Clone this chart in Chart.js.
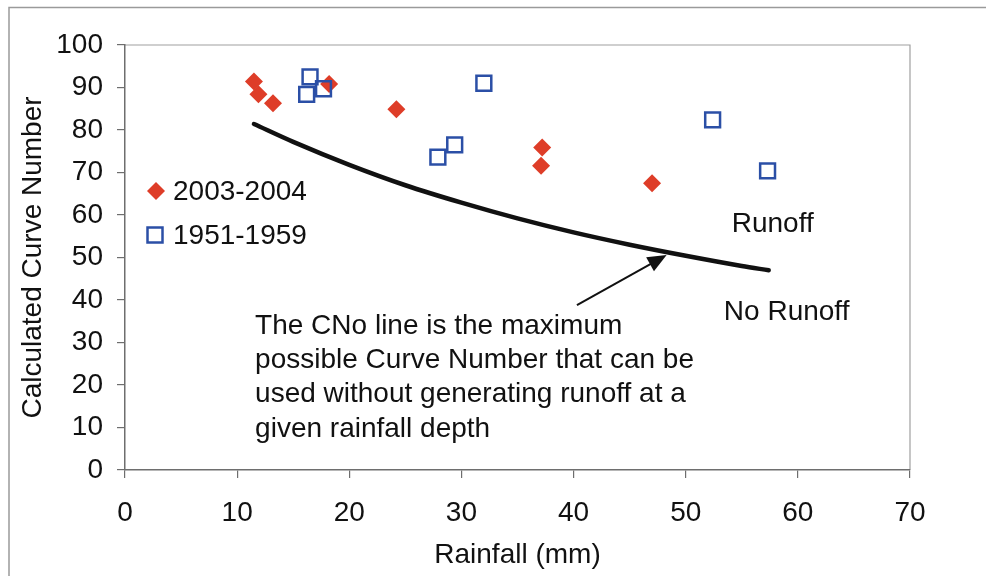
<!DOCTYPE html>
<html>
<head>
<meta charset="utf-8">
<script src="https://cdn.jsdelivr.net/npm/chart.js@4"></script>
<style>
  html, body { margin: 0; padding: 0; background: #fff; }
  #wrap { width: 986px; height: 576px; }
</style>
</head>
<body>
<div id="wrap"><canvas id="chart" width="986" height="576"></canvas></div>
<script>
"use strict";

let RAIN_2003 = [11.5, 11.9, 13.2, 18.2, 24.2, 37.2, 37.1, 47.0];
let CN_2003 = [91.4, 88.4, 86.3, 90.8, 84.9, 75.9, 71.6, 67.5];

let RAIN_1951 = [16.5, 16.2, 17.7, 32.0, 27.9, 29.4, 52.4, 57.3];
let CN_1951 = [92.5, 88.4, 89.7, 91.0, 73.6, 76.5, 82.4, 70.4];

let RAIN_CNO = [11.5, 15, 20, 25, 30, 35, 40, 45, 50, 55, 57.4];
let CN_CNO = [81.4, 77.2, 71.8, 67.0, 62.9, 59.2, 55.9, 53.0, 50.4, 48.0, 47.0];

let X_TICKS = [0, 10, 20, 30, 40, 50, 60, 70];
let Y_TICKS = [0, 10, 20, 30, 40, 50, 60, 70, 80, 90, 100];

let LEGEND = ["2003-2004", "1951-1959"];
let NOTE = [
    "The CNo line is the maximum",
    "possible Curve Number that can be",
    "used without generating runoff at a",
    "given rainfall depth"
];

let FONT = "'Liberation Sans', Arial, sans-serif";
let RED = "#de3d28";
let BLUE = "#2b4fa6";
let AXIS = "#6e6e6e";

function points(xs, ys) {
    return xs.map(function(x, i) { return { x: x, y: ys[i] }; });
}

let extras = {
    id: "extras",
    beforeDraw: function(chart) {
        let ctx = chart.ctx;
        ctx.save();
        ctx.fillStyle = "#fff";
        ctx.fillRect(0, 0, chart.width, chart.height);
        // chart frame
        ctx.strokeStyle = "#9a9a9a";
        ctx.lineWidth = 1.5;
        ctx.beginPath();
        ctx.moveTo(9, chart.height);
        ctx.lineTo(9, 7.5);
        ctx.lineTo(chart.width, 7.5);
        ctx.stroke();
        // plot area top / right edge
        let a = chart.chartArea;
        ctx.strokeStyle = "#a0a0a0";
        ctx.lineWidth = 1.2;
        ctx.beginPath();
        ctx.moveTo(a.left, a.top);
        ctx.lineTo(a.right, a.top);
        ctx.lineTo(a.right, a.bottom);
        ctx.stroke();
        ctx.restore();
    },
    afterDraw: function(chart) {
        let ctx = chart.ctx;
        let xs = chart.scales.x;
        let ys = chart.scales.y;
        ctx.save();
        ctx.font = "28px " + FONT;
        ctx.textBaseline = "alphabetic";

        // legend
        ctx.fillStyle = RED;
        ctx.beginPath();
        ctx.moveTo(156, 182); ctx.lineTo(165, 191); ctx.lineTo(156, 200); ctx.lineTo(147, 191);
        ctx.closePath();
        ctx.fill();
        ctx.strokeStyle = BLUE;
        ctx.lineWidth = 2.5;
        ctx.strokeRect(147.5, 227.5, 15, 15);
        ctx.fillStyle = "#111";
        ctx.fillText(LEGEND[0], 173, 200);
        ctx.fillText(LEGEND[1], 173, 244);

        // region labels
        ctx.fillText("Runoff", xs.getPixelForValue(54.1), ys.getPixelForValue(56.0));
        ctx.fillText("No Runoff", xs.getPixelForValue(53.4), ys.getPixelForValue(35.2));

        // note
        let nx = xs.getPixelForValue(11.6);
        let ny = ys.getPixelForValue(32.1);
        for (let i = 0; i < NOTE.length; ++i) {
            ctx.fillText(NOTE[i], nx, ny + i * 34.4);
        }

        // arrow to the CNo line
        let x0 = xs.getPixelForValue(40.3), y0 = ys.getPixelForValue(38.8);
        let x1 = xs.getPixelForValue(48.3), y1 = ys.getPixelForValue(50.6);
        let ang = Math.atan2(y1 - y0, x1 - x0);
        ctx.strokeStyle = "#111";
        ctx.lineWidth = 2;
        ctx.beginPath();
        ctx.moveTo(x0, y0);
        ctx.lineTo(x1 - 14 * Math.cos(ang), y1 - 14 * Math.sin(ang));
        ctx.stroke();
        ctx.fillStyle = "#111";
        ctx.beginPath();
        ctx.moveTo(x1, y1);
        ctx.lineTo(x1 - 19 * Math.cos(ang) + 8 * Math.sin(ang), y1 - 19 * Math.sin(ang) - 8 * Math.cos(ang));
        ctx.lineTo(x1 - 19 * Math.cos(ang) - 8 * Math.sin(ang), y1 - 19 * Math.sin(ang) + 8 * Math.cos(ang));
        ctx.closePath();
        ctx.fill();
        ctx.restore();
    }
};

Chart.defaults.font.family = FONT;
Chart.defaults.font.size = 28;
Chart.defaults.color = "#111";

new Chart(document.getElementById("chart"), {
    type: "scatter",
    plugins: [extras],
    data: {
        datasets: [{
            label: "CNo",
            type: "line",
            data: points(RAIN_CNO, CN_CNO),
            borderColor: "#111",
            borderWidth: 4.5,
            borderCapStyle: "round",
            pointRadius: 0,
            cubicInterpolationMode: "monotone",
            fill: false,
            order: 3
        }, {
            label: LEGEND[0],
            data: points(RAIN_2003, CN_2003),
            pointStyle: "rectRot",
            pointRadius: 9,
            pointBackgroundColor: RED,
            pointBorderColor: RED,
            pointBorderWidth: 0,
            order: 2
        }, {
            label: LEGEND[1],
            data: points(RAIN_1951, CN_1951),
            pointStyle: "rect",
            pointRadius: 10.5,
            pointBackgroundColor: "rgba(0,0,0,0)",
            pointBorderColor: BLUE,
            pointBorderWidth: 2.5,
            order: 1
        }]
    },
    options: {
        responsive: false,
        animation: false,
        events: [],
        layout: { padding: { left: 0, top: 45, right: 76, bottom: 0 } },
        plugins: {
            legend: { display: false },
            tooltip: { enabled: false }
        },
        scales: {
            x: {
                type: "linear",
                min: 0,
                max: 70,
                afterBuildTicks: function(scale) {
                    scale.ticks = X_TICKS.map(function(v) { return { value: v }; });
                },
                afterFit: function(scale) { scale.height = 106; },
                ticks: { padding: 18, color: "#111", font: { size: 28 } },
                grid: { drawOnChartArea: false, drawTicks: true, tickLength: 8, color: AXIS, lineWidth: 1.2 },
                border: { color: AXIS, width: 1.5 },
                title: { display: true, text: "Rainfall (mm)", color: "#111", font: { size: 28 }, padding: { top: 0, bottom: 4 } }
            },
            y: {
                type: "linear",
                min: 0,
                max: 100,
                afterBuildTicks: function(scale) {
                    scale.ticks = Y_TICKS.map(function(v) { return { value: v }; });
                },
                afterFit: function(scale) { scale.width = 125; },
                ticks: { padding: 14, color: "#111", font: { size: 28 } },
                grid: { drawOnChartArea: false, drawTicks: true, tickLength: 8, color: AXIS, lineWidth: 1.2 },
                border: { color: AXIS, width: 1.5 },
                title: { display: true, text: "Calculated Curve Number", color: "#111", font: { size: 28 }, padding: { top: 16, bottom: 0 } }
            }
        }
    }
});
</script>
</body>
</html>
